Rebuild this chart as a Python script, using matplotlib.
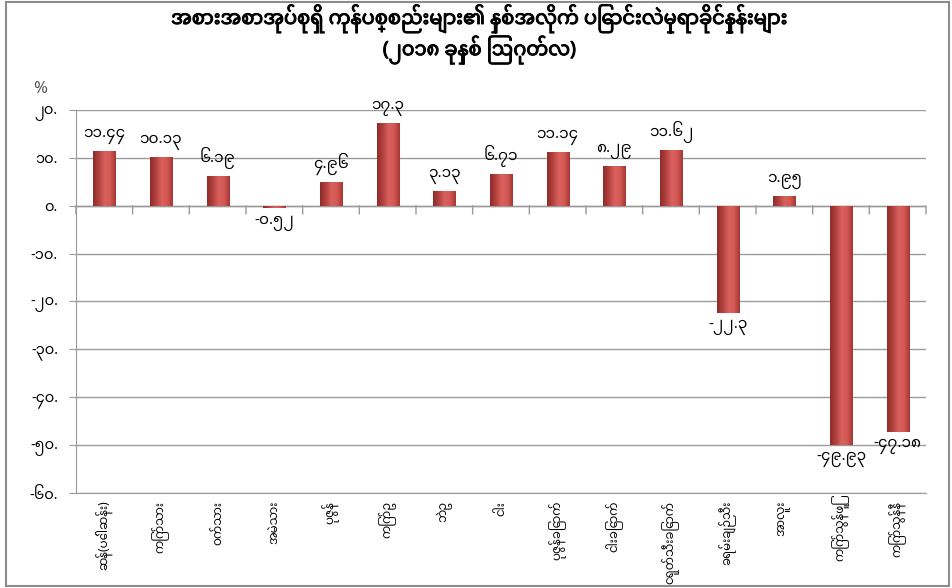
import matplotlib
matplotlib.use("Agg")
import matplotlib.pyplot as plt
import numpy as np
from matplotlib import font_manager
from matplotlib.colors import LinearSegmentedColormap
from matplotlib.patches import Rectangle
import matplotlib.transforms as mtransforms
import matplotlib.patheffects as pe

# ---------------- data ----------------
title_line1 = "အစားအစာအုပ်စုရှိ ကုန်ပစ္စည်းများ၏ နှစ်အလိုက် ပြောင်းလဲမှုရာခိုင်နှုန်းများ"
title_line2 = "(၂၀၁၈ ခုနှစ် ဩဂုတ်လ)"
categories = ["ဆန်(ပေါ်ဆန်း)", "ကြက်သား", "ဝက်သား", "အမဲသား", "ပုဇွန်",
              "ကြက်ဥ", "ဘဲဥ", "ငါး", "ပုဇွန်ခြောက်", "ငါးခြောက်",
              "ငရုတ်သီးခြောက်", "ခရမ်းချဉ်သီး", "အာလူး", "ကြက်သွန်ဖြူ", "ကြက်သွန်နီ"]
values = [11.44, 10.13, 6.19, -0.52, 4.96,
          17.3, 3.13, 6.71, 11.14, 8.29,
          11.62, -22.3, 1.95, -49.93, -47.18]
yticks = [20, 10, 0, -10, -20, -30, -40, -50, -60]
unit_label = "%"

# ---------------- fonts ----------------
names = {f.name for f in font_manager.fontManager.ttflist}
fam = [n for n in ["Noto Sans Myanmar", "Padauk", "Myanmar Text", "Myanmar3",
                   "Pyidaungsu", "Noto Serif Myanmar"] if n in names]
fam += ["DejaVu Sans"]
plt.rcParams["font.family"] = fam

MM = str.maketrans("0123456789", "၀၁၂၃၄၅၆၇၈၉")
def mm(s):
    return s.translate(MM)

# ---------------- figure ----------------
fig = plt.figure(figsize=(9.53, 5.88), dpi=100)
fig.patch.set_facecolor("white")
ax = fig.add_axes([0.0797, 0.1616, 0.892, 0.6513])

x = np.arange(len(categories))
bars = ax.bar(x, values, width=0.39, color="#C0504D", edgecolor="none", zorder=3)

cmap = LinearSegmentedColormap.from_list(
    "cyl", ["#8E2C2A", "#B2403D", "#D9615D", "#D45955", "#A53633"])
grad = np.linspace(0, 1, 64).reshape(1, -1)
for b in bars:
    x0, w = b.get_x(), b.get_width()
    y0, h = b.get_y(), b.get_height()
    im = ax.imshow(grad, cmap=cmap, aspect="auto", zorder=3.5,
                   extent=(x0, x0 + w, min(y0, y0 + h), max(y0, y0 + h)),
                   interpolation="bicubic")
    im.set_clip_path(b)

ax.set_xlim(-0.5, len(categories) - 0.5)
ax.set_ylim(-60, 20)

# gridlines
ax.set_yticks(yticks)
ax.set_yticklabels([mm(f"{v}.") for v in yticks], fontsize=10.5)
ax.yaxis.grid(True, color="#9A9A9A", linewidth=1.0, zorder=0)
ax.set_axisbelow(True)
ax.tick_params(axis="y", direction="out", length=5, color="#9A9A9A", pad=8)
ax.set_xticks([])
for s in ["top", "right"]:
    ax.spines[s].set_visible(False)
ax.spines["left"].set_color("#9A9A9A")
ax.spines["bottom"].set_color("#9A9A9A")

# category axis at zero with tick marks between categories
ax.axhline(0, color="#9A9A9A", linewidth=1.0, zorder=2)
for xb in np.arange(-0.5, len(categories), 1.0):
    ax.annotate("", xy=(xb, 0), xytext=(0, -6), textcoords="offset points",
                arrowprops=dict(arrowstyle="-", color="#9A9A9A", lw=1.0,
                                shrinkA=0, shrinkB=0), annotation_clip=False)

# value labels
for b, v in zip(bars, values):
    xc = b.get_x() + b.get_width() / 2
    if v >= 0:
        ax.annotate(mm(str(v)), (xc, v), xytext=(0, 5), textcoords="offset points",
                    ha="center", va="bottom", fontsize=11, zorder=5)
    else:
        ax.annotate(mm(str(v)), (xc, v), xytext=(0, -5), textcoords="offset points",
                    ha="center", va="top", fontsize=11, zorder=5)

# category labels below plot
tb = mtransforms.blended_transform_factory(ax.transData, ax.transAxes)
for xi, c in zip(x, categories):
    ax.text(xi, -0.02, c, transform=tb, rotation=90, ha="center", va="top",
            fontsize=8.5)

# % unit
fig.text(0.035, 0.848, unit_label, fontsize=12, style="italic", color="#555555",
         ha="left", va="center")

# title
bold = [pe.withStroke(linewidth=0.7, foreground="black")]
fig.text(0.503, 0.968, title_line1, ha="center", va="center", fontsize=14,
         fontweight="bold", path_effects=bold)
fig.text(0.503, 0.915, title_line2, ha="center", va="center", fontsize=14,
         fontweight="bold", path_effects=bold)

# chart border
fig.add_artist(Rectangle((0.006, 0.003), 0.99, 0.994, transform=fig.transFigure,
                         fill=False, edgecolor="#8C8C8C", linewidth=1.5))

fig.savefig("out.png", dpi=100)
